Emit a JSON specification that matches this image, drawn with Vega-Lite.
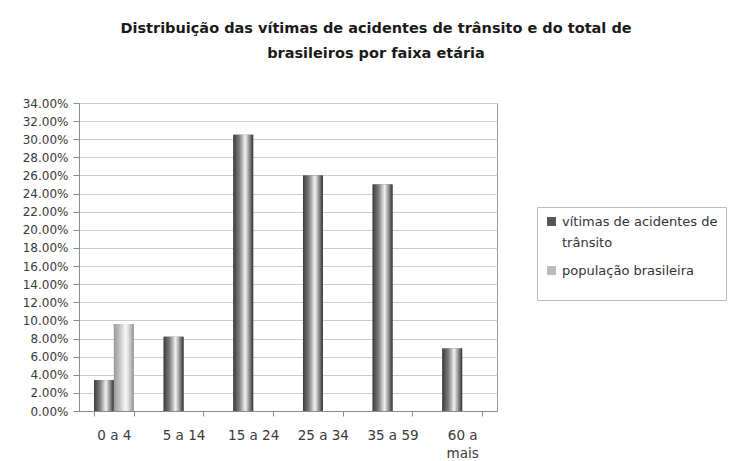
{
  "$schema": "https://vega.github.io/schema/vega-lite/v6.json",
  "width": 418,
  "height": 308,
  "autosize": {"type": "none"},
  "padding": {"left": 79, "top": 103, "right": 259, "bottom": 50},
  "background": "white",
  "title": {
    "text": ["Distribuição das vítimas de acidentes de trânsito e do total de", "brasileiros por faixa etária"],
    "font": "DejaVu Sans",
    "fontSize": 14.5,
    "fontWeight": "bold",
    "color": "#1a1a1a",
    "anchor": "middle",
    "dx": 88,
    "offset": 36,
    "lineHeight": 25
  },
  "config": {
    "view": {"stroke": "#9a9a9a", "strokeWidth": 1},
    "style": {"guide-label": {"lineHeight": 21}},
    "axis": {
      "labelFont": "DejaVu Sans",
      "labelColor": "#3a3a3a",
      "domainColor": "#8a8a8a",
      "tickColor": "#8a8a8a",
      "gridColor": "#cccccc"
    }
  },
  "data": {
    "values": [
      {"faixa": "0 a 4", "serie": "vítimas de acidentes de trânsito", "valor": 0.034},
      {"faixa": "0 a 4", "serie": "população brasileira", "valor": 0.096},
      {"faixa": "5 a 14", "serie": "vítimas de acidentes de trânsito", "valor": 0.082},
      {"faixa": "15 a 24", "serie": "vítimas de acidentes de trânsito", "valor": 0.305},
      {"faixa": "25 a 34", "serie": "vítimas de acidentes de trânsito", "valor": 0.26},
      {"faixa": "35 a 59", "serie": "vítimas de acidentes de trânsito", "valor": 0.25},
      {"faixa": "60 a mais", "serie": "vítimas de acidentes de trânsito", "valor": 0.069}
    ]
  },
  "encoding": {
    "x": {
      "field": "faixa",
      "type": "nominal",
      "sort": ["0 a 4", "5 a 14", "15 a 24", "25 a 34", "35 a 59", "60 a mais"],
      "scale": {"paddingInner": 0.43, "paddingOuter": 0.215},
      "title": null,
      "axis": {
        "labelAngle": 0,
        "labelFontSize": 13.5,
        "labelPadding": 12,
        "labelLineHeight": 18,
        "tickSize": 5,
        "tickBand": "extent",
        "labelExpr": "datum.label == '60 a mais' ? ['60 a', 'mais'] : datum.label"
      }
    },
    "xOffset": {
      "field": "serie",
      "type": "nominal",
      "scale": {"domain": ["vítimas de acidentes de trânsito", "população brasileira"], "paddingInner": 0, "paddingOuter": 0}
    },
    "y": {
      "field": "valor",
      "type": "quantitative",
      "scale": {"domain": [0, 0.34], "nice": false},
      "title": null,
      "axis": {
        "format": ".2%",
        "values": [0, 0.02, 0.04, 0.06, 0.08, 0.1, 0.12, 0.14, 0.16, 0.18, 0.2, 0.22, 0.24, 0.26, 0.28, 0.3, 0.32, 0.34],
        "labelFontSize": 12,
        "tickSize": 6,
        "labelPadding": 5,
        "grid": true
      }
    }
  },
  "layer": [
    {
      "mark": {"type": "bar"},
      "encoding": {
        "color": {
          "field": "serie",
          "type": "nominal",
          "scale": {"domain": ["vítimas de acidentes de trânsito", "população brasileira"], "range": ["#555555", "#bbbbbb"]},
          "legend": {
            "orient": "none",
            "legendX": 458,
            "legendY": 104,
            "title": "\u00a0\u00a0\u00a0\u00a0\u00a0\u00a0\u00a0\u00a0\u00a0\u00a0\u00a0\u00a0\u00a0\u00a0\u00a0\u00a0\u00a0\u00a0\u00a0\u00a0\u00a0\u00a0\u00a0\u00a0\u00a0\u00a0\u00a0\u00a0\u00a0\u00a0\u00a0\u00a0\u00a0\u00a0\u00a0\u00a0\u00a0\u00a0\u00a0\u00a0\u00a0\u00a0\u00a0\u00a0\u00a0\u00a0\u00a0\u00a0\u00a0\u00a0",
            "titleOrient": "bottom",
            "titleFont": "DejaVu Sans",
            "titleFontSize": 14,
            "titlePadding": 0,
            "strokeColor": "#bbbbbb",
            "fillColor": "white",
            "padding": 8,
            "labelFont": "DejaVu Sans",
            "labelFontSize": 13,
            "labelColor": "#333333",
            "labelLimit": 300,
            "labelOffset": 4,
            "symbolType": "square",
            "symbolSize": 80,
            "symbolStrokeWidth": 0,
            "rowPadding": 14,
            "labelExpr": "datum.label == 'vítimas de acidentes de trânsito' ? ['vítimas de acidentes de', 'trânsito'] : datum.label"
          }
        }
      }
    },
    {
      "transform": [{"filter": "datum.serie == 'vítimas de acidentes de trânsito'"}],
      "mark": {
        "type": "bar",
        "fill": {
          "gradient": "linear",
          "x1": 0, "x2": 1, "y1": 0, "y2": 0,
          "stops": [
            {"offset": 0, "color": "#3c3c3c"},
            {"offset": 0.3, "color": "#7d7d7d"},
            {"offset": 0.6, "color": "#f2f2f2"},
            {"offset": 0.82, "color": "#8a8a8a"},
            {"offset": 1, "color": "#333333"}
          ]
        }
      }
    },
    {
      "transform": [{"filter": "datum.serie == 'população brasileira'"}],
      "mark": {
        "type": "bar",
        "fill": {
          "gradient": "linear",
          "x1": 0, "x2": 1, "y1": 0, "y2": 0,
          "stops": [
            {"offset": 0, "color": "#9a9a9a"},
            {"offset": 0.3, "color": "#c4c4c4"},
            {"offset": 0.6, "color": "#f8f8f8"},
            {"offset": 0.82, "color": "#c8c8c8"},
            {"offset": 1, "color": "#8e8e8e"}
          ]
        }
      }
    }
  ]
}
